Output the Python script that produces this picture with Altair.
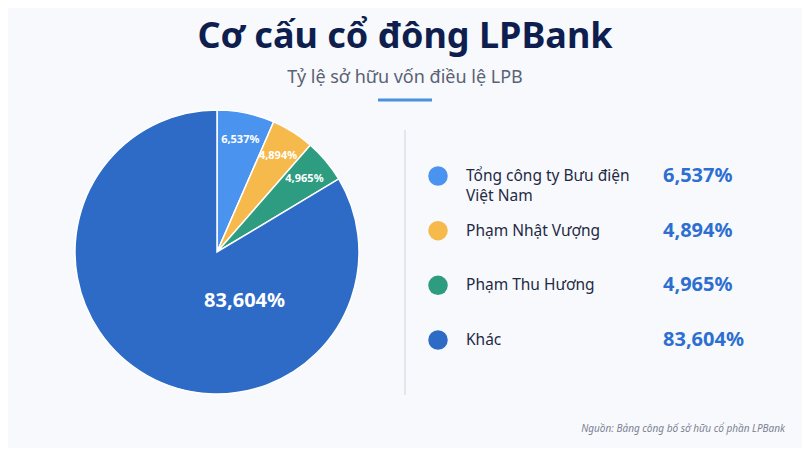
import textwrap
import altair as alt
import pandas as pd

# ---- data ----
categories = ["Tổng công ty Bưu điện Việt Nam", "Phạm Nhật Vượng", "Phạm Thu Hương", "Khác"]
values = [6.537, 4.894, 4.965, 83.604]
colors = ["#4A93EF", "#F6B94B", "#2E9C80", "#2E6BC6"]

title_text = "Cơ cấu cổ đông LPBank"
subtitle_text = "Tỷ lệ sở hữu vốn điều lệ LPB"
source_text = "Nguồn: Bảng công bố sở hữu cổ phần LPBank"

FONT = "Noto Sans"
W, H = 794, 440
CX, CY, R = 209, 244, 142

df = pd.DataFrame({
    "cat": categories,
    "value": values,
    "idx": list(range(len(categories))),
    "label": [f"{v:.3f}".replace(".", ",") + "%" for v in values],
    "legend": ["\n".join(textwrap.wrap(c, 22)) for c in categories],
})

color = alt.Color("cat:N", scale=alt.Scale(domain=categories, range=colors), legend=None)

base = alt.Chart(df).encode(
    theta=alt.Theta("value:Q", stack=True),
    order=alt.Order("idx:Q"),
)

pie = base.mark_arc(outerRadius=R, stroke="white", strokeWidth=1.5).encode(
    color=color, x=alt.value(CX), y=alt.value(CY)
)

small_lbl = base.transform_filter("datum.value < 50").mark_text(
    radius=114, font=FONT, fontSize=11, fontWeight="bold", color="white"
).encode(text="label:N", x=alt.value(CX), y=alt.value(CY))

big_lbl = base.transform_filter("datum.value >= 50").mark_text(
    radius=56, font=FONT, fontSize=20, fontWeight="bold", color="white"
).encode(text="label:N", x=alt.value(CX), y=alt.value(CY))

rowY = alt.Y("cat:N", sort=categories, scale=alt.Scale(range=[168, 332], padding=0), axis=None)

leg = alt.Chart(df)
dots = leg.mark_point(filled=True, shape="circle", size=380, opacity=1).encode(
    x=alt.value(430), y=rowY, color=color
)
names = leg.mark_text(
    align="left", baseline="middle", font=FONT, fontSize=15.5, color="#1F2A44", lineBreak="\n", lineHeight=20
).encode(x=alt.value(458), y=rowY, text="legend:N")
vals = leg.mark_text(
    align="left", baseline="middle", font=FONT, fontSize=20, fontWeight="bold", color="#2C6FD1"
).encode(x=alt.value(655), y=rowY, text="label:N")

title = alt.Chart(pd.DataFrame({"t": [title_text]})).mark_text(
    align="center", baseline="alphabetic", font=FONT, fontSize=36, fontWeight="bold", color="#0E1F4F"
).encode(x=alt.value(397), y=alt.value(40), text="t:N")
subtitle = alt.Chart(pd.DataFrame({"t": [subtitle_text]})).mark_text(
    align="center", baseline="alphabetic", font=FONT, fontSize=18, color="#5A6275"
).encode(x=alt.value(397), y=alt.value(75), text="t:N")
underline = alt.Chart(pd.DataFrame({"a": [0]})).mark_rule(color="#4A90E2", strokeWidth=3).encode(
    x=alt.value(370), x2=alt.value(424), y=alt.value(92)
)
divider = alt.Chart(pd.DataFrame({"a": [0]})).mark_rule(color="#E3E6EC", strokeWidth=2).encode(
    x=alt.value(397), y=alt.value(122), y2=alt.value(387)
)
source = alt.Chart(pd.DataFrame({"t": [source_text]})).mark_text(
    align="right", baseline="alphabetic", font=FONT, fontSize=10, fontStyle="italic", color="#7A8294"
).encode(x=alt.value(777), y=alt.value(424), text="t:N")

chart = alt.layer(
    pie, small_lbl, big_lbl, divider, dots, names, vals, title, subtitle, underline, source
).properties(
    width=W, height=H, padding=0, autosize=alt.AutoSizeParams(type="none"), background="#F8F9FC"
).configure_view(stroke=None)

chart.save("out.html", embed_options={"renderer": "svg", "actions": False})
